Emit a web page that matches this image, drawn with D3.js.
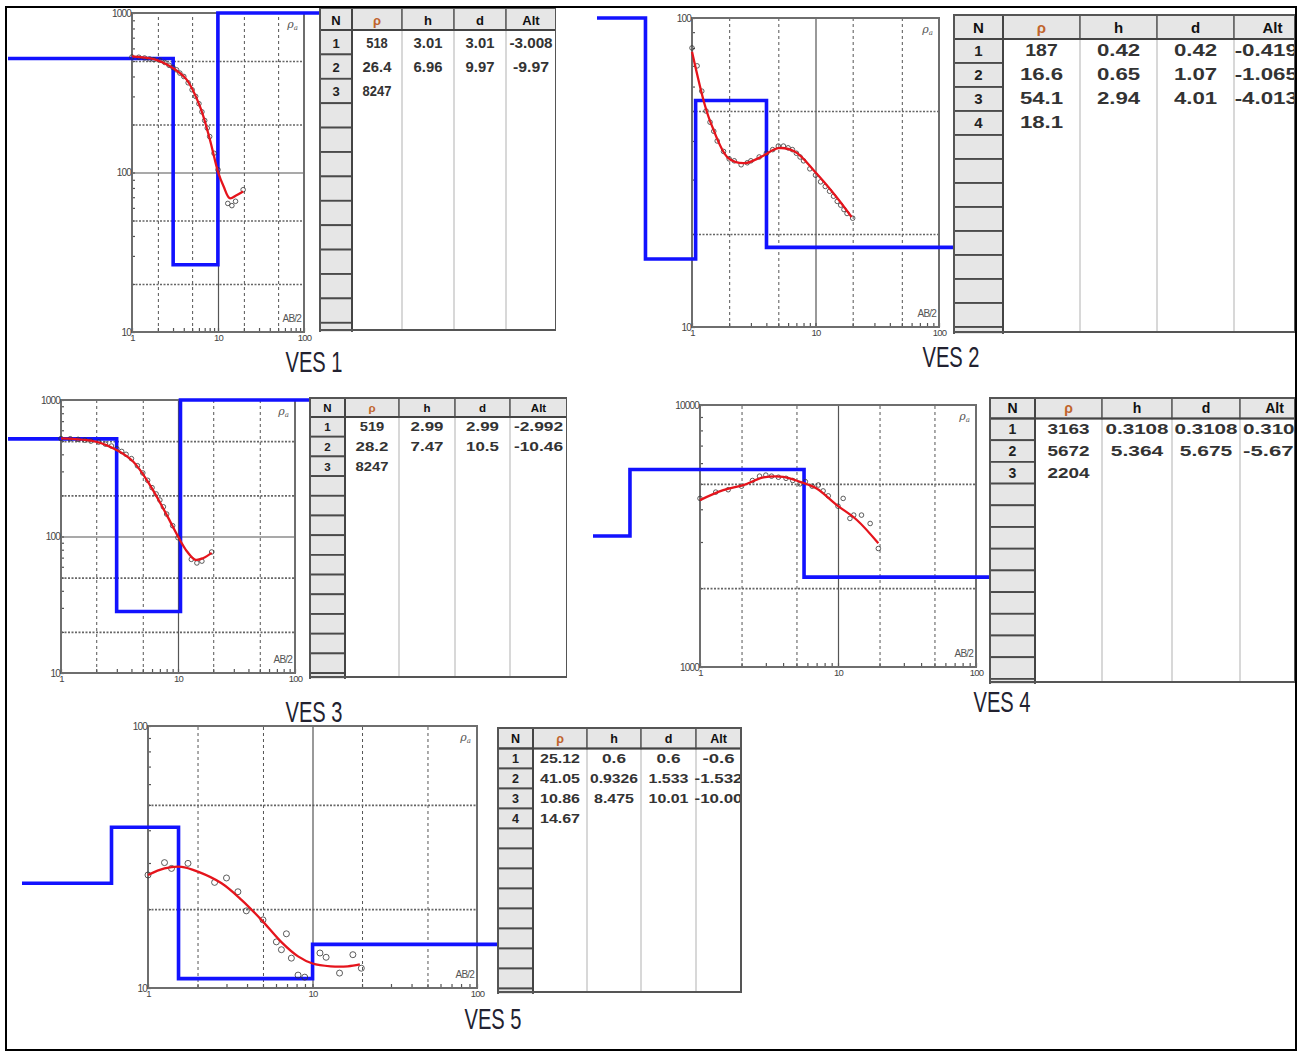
<!DOCTYPE html>
<html>
<head>
<meta charset="utf-8">
<script src="https://cdn.jsdelivr.net/npm/d3@7"></script>
<style>
  body { margin: 0; background: #fff; }
  svg { display: block; }
</style>
</head>
<body>
<svg id="chart"></svg>
<script>
// Five VES soundings: field points, fitted curve (red), layer model (blue), layer table

// ---- VES 1 ----
const ves1Ab2 = [1, 1.2, 1.4, 1.6, 1.8, 2.1, 2.4, 2.7, 3, 3.3, 3.6, 4, 4.5, 5, 5.5, 6, 6.5, 7, 7.5, 8, 9, 10, 13, 14.5, 16, 19.6];
const ves1RhoObs = [530, 528, 522, 515, 510, 505, 490, 470, 455, 440, 420, 400, 365, 330, 300, 270, 240, 212, 190, 168, 132, 104, 64, 62, 66, 78];
const ves1CurveAb2 = [1, 1.92, 3.02, 4.32, 6.18, 8.07, 10, 11.6, 13.7, 16.4, 19.6];
const ves1RhoCalc = [535, 509, 450, 382, 259, 160, 101, 82, 69, 72, 76];
const ves1Rho = ["518", "26.4", "8247"];
const ves1H = ["3.01", "6.96"];
const ves1D = ["3.01", "9.97"];
const ves1Alt = ["-3.008", "-9.97"];

// ---- VES 2 ----
const ves2Ab2 = [1, 1.1, 1.2, 1.3, 1.4, 1.5, 1.6, 1.8, 2, 2.2, 2.5, 2.8, 3, 3.5, 4, 4.5, 5, 5.5, 6, 6.5, 7, 7.5, 8, 9, 10, 11, 12, 13, 14, 15, 16, 17, 18, 20];
const ves2RhoObs = [80, 70, 58, 50, 46, 43, 40, 37, 35, 34.5, 33.5, 34, 34.5, 35.5, 36.5, 37.5, 38.5, 38.5, 38, 37.5, 36.5, 35.5, 34.5, 32.5, 31, 29.5, 28.5, 27.5, 26.5, 25.5, 24.8, 24, 23.3, 22.5];
const ves2CurveAb2 = [1, 1.27, 1.44, 1.97, 2.69, 3.66, 5.0, 6.83, 9.9, 14.4, 19.6];
const ves2RhoCalc = [77.8, 52.3, 45.1, 35.2, 33.9, 35.6, 37.9, 36.9, 31.8, 26.7, 22.7];
const ves2Rho = ["187", "16.6", "54.1", "18.1"];
const ves2H = ["0.42", "0.65", "2.94"];
const ves2D = ["0.42", "1.07", "4.01"];
const ves2Alt = ["-0.4199", "-1.0659", "-4.0133"];

// ---- VES 3 ----
const ves3Ab2 = [1, 1.2, 1.4, 1.6, 1.8, 2.1, 2.4, 2.7, 3, 3.3, 3.6, 4, 4.5, 5, 5.5, 6, 6.5, 7, 7.5, 8, 9, 10, 13, 14.5, 16, 19.4];
const ves3RhoObs = [522, 520, 515, 508, 500, 492, 475, 460, 440, 420, 400, 372, 330, 292, 258, 228, 205, 185, 165, 146, 120, 98, 68, 64, 66, 77];
const ves3CurveAb2 = [1, 2.02, 2.99, 4.15, 5.76, 8, 10, 11.9, 14.1, 16.5, 19.4];
const ves3RhoCalc = [524, 494, 430, 353, 238, 144, 100, 78, 67.5, 69.6, 75.8];
const ves3Rho = ["519", "28.2", "8247"];
const ves3H = ["2.99", "7.47"];
const ves3D = ["2.99", "10.5"];
const ves3Alt = ["-2.992", "-10.46"];

// ---- VES 4 ----
const ves4Ab2 = [1, 1.3, 1.6, 2, 2.4, 2.7, 3, 3.3, 3.7, 4.2, 4.7, 5.3, 5.8, 6.5, 7.2, 7.8, 8.5, 10, 10.9, 12.2, 13, 14.8, 17.1, 19.6];
const ves4RhoObs = [4400, 4650, 4750, 4900, 5150, 5350, 5400, 5350, 5300, 5250, 5150, 5000, 5100, 4900, 4950, 4700, 4500, 4110, 4400, 3690, 3800, 3800, 3530, 2833];
const ves4CurveAb2 = [1, 1.475, 2.06, 2.88, 4.01, 5.3, 7.0, 9.8, 13.7, 19.6];
const ves4RhoCalc = [4335, 4730, 4945, 5290, 5320, 5090, 4805, 4150, 3640, 2965];
const ves4Rho = ["3163", "5672", "2204"];
const ves4H = ["0.3108", "5.364"];
const ves4D = ["0.3108", "5.675"];
const ves4Alt = ["0.3108", "-5.675"];

// ---- VES 5 ----
const ves5Ab2 = [1, 1.26, 1.39, 1.75, 2.54, 3.0, 3.52, 3.96, 5.0, 6.03, 6.94, 6.47, 7.44, 8.17, 8.97, 11.1, 12.1, 14.6, 17.6, 19.8];
const ves5RhoObs = [27.0, 30.1, 28.6, 29.9, 25.3, 26.3, 23.3, 19.7, 18.2, 15.0, 16.1, 14.0, 13.0, 11.2, 11.0, 13.6, 13.1, 11.4, 13.4, 11.9];
const ves5CurveAb2 = [1, 1.26, 1.6, 2.01, 2.8, 3.7, 4.89, 6.45, 8.17, 10, 12.9, 16.4, 19.4];
const ves5RhoCalc = [27.0, 28.6, 29.0, 27.8, 25.1, 21.7, 18.2, 15.0, 13.2, 12.4, 12.1, 12.1, 12.3];
const ves5Rho = ["25.12", "41.05", "10.86", "14.67"];
const ves5H = ["0.6", "0.9326", "8.475"];
const ves5D = ["0.6", "1.533", "10.01"];
const ves5Alt = ["-0.6", "-1.532", "-10.00"];

const tableHeads = ["N", "ρ", "h", "d", "Alt"];

// layout of each panel (plot box, model line extent, table box, caption)
const panels = [
  { label: "VES 1", ab2: ves1Ab2, obs: ves1RhoObs, cAb2: ves1CurveAb2, calc: ves1RhoCalc,
    rho: ves1Rho, h: ves1H, d: ves1D, alt: ves1Alt,
    xDomain: [1, 100], yDomain: [10, 1000],
    plot: {x0: 132, x1: 304, y0: 13, y1: 332}, modelLeft: 8,
    table: {x: 320, y: 8, colW: [32, 50, 52, 52, 50], headH: 22, rowH: 24.4, bottom: 330, right: 556, size: 14, charW: 7.2},
    cap: {x: 314, y: 372} },
  { label: "VES 2", ab2: ves2Ab2, obs: ves2RhoObs, cAb2: ves2CurveAb2, calc: ves2RhoCalc,
    rho: ves2Rho, h: ves2H, d: ves2D, alt: ves2Alt,
    xDomain: [1, 100], yDomain: [10, 100],
    plot: {x0: 692, x1: 939, y0: 18, y1: 327}, modelLeft: 597,
    table: {x: 954, y: 15, colW: [49, 77, 77, 77, 77], headH: 24, rowH: 24, bottom: 332, right: 1295, size: 16, charW: 10.8},
    cap: {x: 951, y: 367} },
  { label: "VES 3", ab2: ves3Ab2, obs: ves3RhoObs, cAb2: ves3CurveAb2, calc: ves3RhoCalc,
    rho: ves3Rho, h: ves3H, d: ves3D, alt: ves3Alt,
    xDomain: [1, 100], yDomain: [10, 1000],
    plot: {x0: 61, x1: 295, y0: 400, y1: 673}, modelLeft: 8,
    table: {x: 310, y: 398, colW: [35, 54, 56, 55, 57], headH: 19, rowH: 19.7, bottom: 677, right: 567, size: 12.5, charW: 8.2},
    cap: {x: 314, y: 722} },
  { label: "VES 4", ab2: ves4Ab2, obs: ves4RhoObs, cAb2: ves4CurveAb2, calc: ves4RhoCalc,
    rho: ves4Rho, h: ves4H, d: ves4D, alt: ves4Alt,
    xDomain: [1, 100], yDomain: [1000, 10000],
    plot: {x0: 700, x1: 976, y0: 405, y1: 667}, modelLeft: 593,
    table: {x: 990, y: 398, colW: [45, 67, 70, 68, 69], headH: 20.5, rowH: 21.7, bottom: 682, right: 1295, size: 15, charW: 10.5},
    cap: {x: 1002, y: 712} },
  { label: "VES 5", ab2: ves5Ab2, obs: ves5RhoObs, cAb2: ves5CurveAb2, calc: ves5RhoCalc,
    rho: ves5Rho, h: ves5H, d: ves5D, alt: ves5Alt,
    xDomain: [1, 100], yDomain: [10, 100],
    plot: {x0: 148, x1: 477, y0: 726, y1: 988}, modelLeft: 22,
    table: {x: 498, y: 728, colW: [35, 54, 54, 55, 45], headH: 20.5, rowH: 20, bottom: 992, right: 742, size: 13.5, charW: 8},
    cap: {x: 493, y: 1029} }
];

const W = 1306, H = 1053;
const svg = d3.select("#chart").attr("width", W).attr("height", H);
svg.append("rect").attr("width", W).attr("height", H).attr("fill", "#fff");

function decadesOf(domain) {
  const a = Math.round(Math.log10(domain[0])), b = Math.round(Math.log10(domain[1]));
  return d3.range(a, b + 1).map(k => Math.pow(10, k));
}

function drawPanel(p, idx) {
  const pl = p.plot;
  const x = d3.scaleLog().domain(p.xDomain).range([pl.x0, pl.x1]);
  const y = d3.scaleLog().domain(p.yDomain).range([pl.y1, pl.y0]);
  const pw = pl.x1 - pl.x0, ph = pl.y1 - pl.y0;
  const g = svg.append("g");

  const xDec = decadesOf(p.xDomain), yDec = decadesOf(p.yDomain);
  const xDash = xDec.slice(0, -1).flatMap(d => [2 * d, 5 * d]);
  const yDash = yDec.slice(0, -1).flatMap(d => [2 * d, 5 * d]);
  const xSolid = xDec.slice(1, -1), ySolid = yDec.slice(1, -1);

  g.append("rect").attr("x", pl.x0).attr("y", pl.y0).attr("width", pw).attr("height", ph).attr("fill", "#fff");

  // grid
  const noDomain = s => s.select(".domain").remove();
  g.append("g").attr("transform", `translate(0,${pl.y1})`)
    .call(d3.axisBottom(x).tickValues(xDash).tickSize(-ph).tickFormat(""))
    .call(noDomain)
    .selectAll("line").attr("stroke", "#555").attr("stroke-width", 1).attr("stroke-dasharray", "3,3");
  g.append("g").attr("transform", `translate(${pl.x0},0)`)
    .call(d3.axisLeft(y).tickValues(yDash).tickSize(-pw).tickFormat(""))
    .call(noDomain)
    .selectAll("line").attr("stroke", "#666").attr("stroke-width", 1.6).attr("stroke-dasharray", "2,1.5");
  g.append("g").attr("transform", `translate(0,${pl.y1})`)
    .call(d3.axisBottom(x).tickValues(xSolid).tickSize(-ph).tickFormat(""))
    .call(noDomain)
    .selectAll("line").attr("stroke", "#555").attr("stroke-width", 1.2);
  g.append("g").attr("transform", `translate(${pl.x0},0)`)
    .call(d3.axisLeft(y).tickValues(ySolid).tickSize(-pw).tickFormat(""))
    .call(noDomain)
    .selectAll("line").attr("stroke", "#555").attr("stroke-width", 1.2);

  // minor ticks
  g.append("g").attr("transform", `translate(0,${pl.y1})`)
    .call(d3.axisBottom(x).tickValues(x.ticks()).tickSize(-4).tickFormat(""))
    .call(noDomain)
    .selectAll("line").attr("stroke", "#555").attr("stroke-width", 1.2);
  g.append("g").attr("transform", `translate(${pl.x0},0)`)
    .call(d3.axisLeft(y).tickValues(y.ticks()).tickSize(-3).tickFormat(""))
    .call(noDomain)
    .selectAll("line").attr("stroke", "#555").attr("stroke-width", 1.2);

  // frame
  g.append("rect").attr("x", pl.x0).attr("y", pl.y0).attr("width", pw).attr("height", ph)
    .attr("fill", "none").attr("stroke", "#6e6e6e").attr("stroke-width", 2);

  // tick labels
  const yl = g.append("g").attr("transform", `translate(${pl.x0},0)`)
    .call(d3.axisLeft(y).tickValues(yDec).tickSize(0).tickPadding(1).tickFormat(d3.format("d")));
  yl.select(".domain").remove();
  yl.selectAll("text").attr("font-family", "Liberation Sans, Arial, sans-serif").attr("font-size", 10)
    .attr("fill", "#444").attr("letter-spacing", -0.8);
  const xl = g.append("g").attr("transform", `translate(0,${pl.y1})`)
    .call(d3.axisBottom(x).tickValues(xDec).tickSize(0).tickPadding(2).tickFormat(d3.format("d")));
  xl.select(".domain").remove();
  xl.selectAll("text").attr("font-family", "Liberation Sans, Arial, sans-serif").attr("font-size", 9.5)
    .attr("fill", "#444").attr("letter-spacing", -0.8);

  g.append("text").attr("x", pl.x1 - 6).attr("y", pl.y0 + 15).attr("text-anchor", "end")
    .attr("font-family", "DejaVu Serif, serif").attr("font-style", "italic").attr("font-size", 11).attr("fill", "#555")
    .text("ρ").append("tspan").attr("font-size", 7).attr("dy", 2).text("a");
  g.append("text").attr("x", pl.x1 - 3).attr("y", pl.y1 - 10).attr("text-anchor", "end")
    .attr("font-family", "Liberation Sans, Arial, sans-serif").attr("font-size", 10).attr("fill", "#555")
    .attr("letter-spacing", -0.8).text("AB/2");

  // layer model (blue step line) from table values
  const yb = y.copy().clamp(true);
  const rhoN = p.rho.map(Number), dN = p.d.map(Number);
  const xStart = x.invert(p.modelLeft), xEnd = x.invert(p.table.x);
  const model = [[xStart, rhoN[0]]]
    .concat(dN.map((dv, i) => [dv, rhoN[i + 1]]))
    .concat([[xEnd, rhoN[rhoN.length - 1]]]);
  svg.append("path").datum(model)
    .attr("d", d3.line().x(v => x(v[0])).y(v => yb(v[1])).curve(d3.curveStepAfter))
    .attr("fill", "none").attr("stroke", "#1212ff").attr("stroke-width", 3.6);

  // observed points
  svg.append("g").selectAll("circle").data(p.ab2.map((a, i) => [a, p.obs[i]])).join("circle")
    .attr("cx", v => x(v[0])).attr("cy", v => y(v[1])).attr("r", idx === 4 ? 3 : 2.3)
    .attr("fill", "none").attr("stroke", "#333").attr("stroke-width", 0.8);

  // calculated curve
  svg.append("path").datum(p.cAb2.map((a, i) => [a, p.calc[i]]))
    .attr("d", d3.line().x(v => x(v[0])).y(v => y(v[1])).curve(d3.curveCatmullRom))
    .attr("fill", "none").attr("stroke", "#e5141c").attr("stroke-width", 2.3);

  drawTable(p, idx);

  svg.append("text").attr("x", p.cap.x).attr("y", p.cap.y).attr("text-anchor", "middle")
    .attr("font-family", "Liberation Sans, Arial, sans-serif").attr("font-size", 30).attr("fill", "#222230")
    .attr("textLength", 57).attr("lengthAdjust", "spacingAndGlyphs").text(p.label);
}

function drawTable(p, idx) {
  const t = p.table;
  const colX = [t.x];
  t.colW.forEach(w => colX.push(colX[colX.length - 1] + w));
  const fullW = colX[colX.length - 1] - t.x;
  const bodyTop = t.y + t.headH;
  const nRows = Math.ceil((t.bottom - bodyTop) / t.rowH);
  const clipId = "tclip" + idx;
  svg.append("clipPath").attr("id", clipId).append("rect")
    .attr("x", t.x - 2).attr("y", t.y - 2).attr("width", t.right - t.x + 2).attr("height", t.bottom - t.y + 4);
  const g = svg.append("g").attr("clip-path", `url(#${clipId})`);
  const font = "Liberation Sans, Arial, sans-serif";

  g.append("rect").attr("x", t.x).attr("y", t.y).attr("width", fullW).attr("height", t.bottom - t.y).attr("fill", "#fff");

  // body column separators
  g.selectAll("line.sep").data(colX.slice(2, -1)).join("line")
    .attr("x1", d => d).attr("x2", d => d).attr("y1", bodyTop).attr("y2", t.bottom)
    .attr("stroke", "#cfcfcf").attr("stroke-width", 1.6);

  // header
  g.selectAll("rect.head").data(tableHeads).join("rect")
    .attr("x", (d, i) => colX[i]).attr("y", t.y).attr("width", (d, i) => t.colW[i]).attr("height", t.headH)
    .attr("fill", "#e6e6e6").attr("stroke", "#666").attr("stroke-width", 1.6);
  g.selectAll("text.head").data(tableHeads).join("text")
    .attr("x", (d, i) => colX[i] + t.colW[i] / 2).attr("y", t.y + t.headH * 0.75)
    .attr("text-anchor", "middle").attr("font-family", font).attr("font-weight", "bold")
    .attr("font-size", t.size - 1).attr("fill", (d, i) => i === 1 ? "#c0642c" : "#111").text(d => d);

  // N column cells
  g.selectAll("rect.n").data(d3.range(nRows)).join("rect")
    .attr("x", t.x).attr("y", i => bodyTop + i * t.rowH).attr("width", t.colW[0]).attr("height", t.rowH)
    .attr("fill", "#e6e6e6").attr("stroke", "#4a4a4a").attr("stroke-width", 1.8);
  g.selectAll("text.n").data(p.rho).join("text")
    .attr("x", t.x + t.colW[0] / 2).attr("y", (d, i) => bodyTop + i * t.rowH + t.rowH * 0.72)
    .attr("text-anchor", "middle").attr("font-family", font).attr("font-weight", "bold")
    .attr("font-size", t.size - 1).attr("fill", "#222").text((d, i) => i + 1);

  // values
  const cells = [];
  p.rho.forEach((r, i) => {
    [r, p.h[i], p.d[i], p.alt[i]].forEach((v, j) => { if (v !== undefined) cells.push({row: i, col: j + 1, v}); });
  });
  g.selectAll("text.v").data(cells).join("text")
    .attr("x", c => colX[c.col] + t.colW[c.col] / 2).attr("y", c => bodyTop + c.row * t.rowH + t.rowH * 0.72)
    .attr("text-anchor", "middle").attr("font-family", font).attr("font-weight", "bold")
    .attr("font-size", t.size).attr("fill", "#333")
    .attr("textLength", c => c.v.length * t.charW).attr("lengthAdjust", "spacingAndGlyphs")
    .text(c => c.v);

  // dark line after the N column and under the header, and the outer border
  g.append("line").attr("x1", colX[1]).attr("x2", colX[1]).attr("y1", t.y).attr("y2", t.bottom)
    .attr("stroke", "#444").attr("stroke-width", 2);
  g.append("line").attr("x1", t.x).attr("x2", t.x + fullW).attr("y1", bodyTop).attr("y2", bodyTop)
    .attr("stroke", "#444").attr("stroke-width", 2);
  g.append("rect").attr("x", t.x).attr("y", t.y).attr("width", Math.min(fullW, t.right - t.x)).attr("height", t.bottom - t.y)
    .attr("fill", "none").attr("stroke", "#555").attr("stroke-width", 2);
}

panels.forEach(drawPanel);

// outer frame
svg.append("rect").attr("x", 6).attr("y", 7).attr("width", 1290).attr("height", 1043)
  .attr("fill", "none").attr("stroke", "#000").attr("stroke-width", 2);
</script>
</body>
</html>
